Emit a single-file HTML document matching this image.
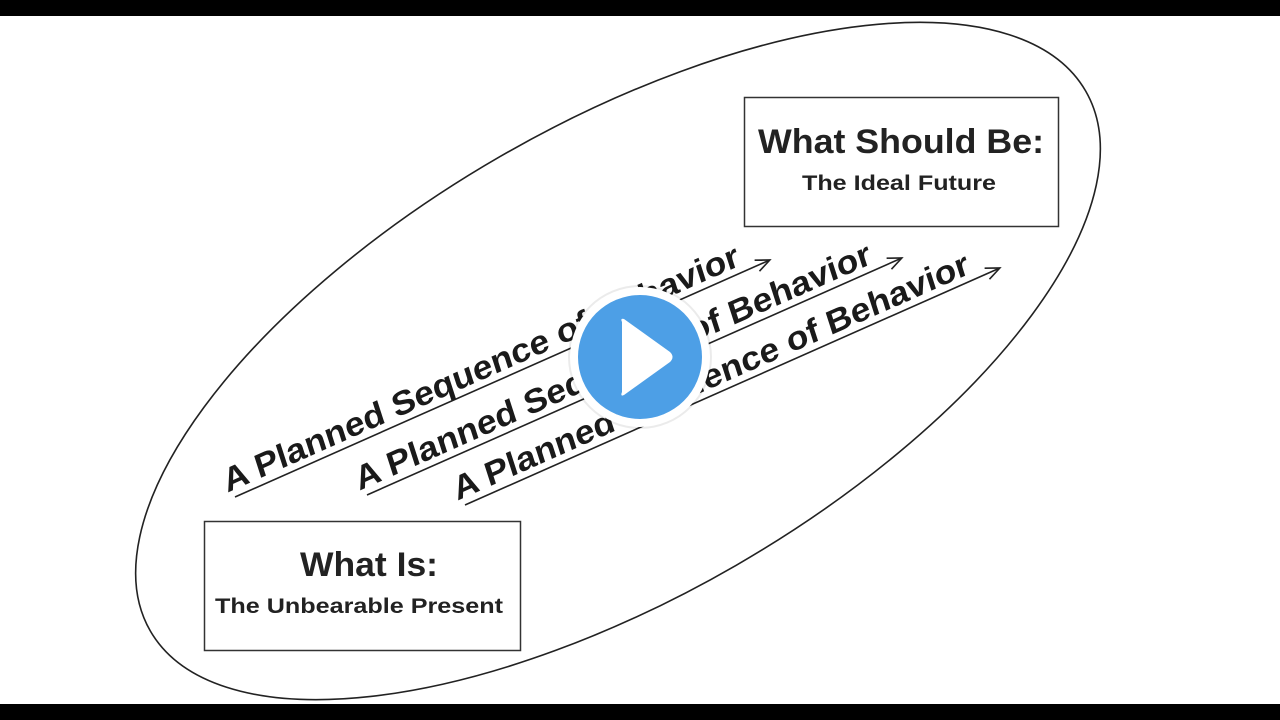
<!DOCTYPE html>
<html><head><meta charset="utf-8"><style>
html,body{margin:0;padding:0;background:#fff;overflow:hidden;width:1280px;height:720px;}
svg{display:block}
</style></head><body>
<svg width="1280" height="720" viewBox="0 0 1280 720" xmlns="http://www.w3.org/2000/svg">
<rect x="0" y="0" width="1280" height="720" fill="#fff"/>
<rect x="0" y="0" width="1280" height="16" fill="#000"/>
<rect x="0" y="704" width="1280" height="16" fill="#000"/>
<ellipse cx="618" cy="361" rx="540" ry="236" transform="rotate(-30 618 361)" fill="none" stroke="#222" stroke-width="1.6"/>
<rect x="744.5" y="97.5" width="314" height="129" fill="#fff" stroke="#333" stroke-width="1.5"/>
<text x="758" y="153" textLength="286" lengthAdjust="spacingAndGlyphs" font-family="Liberation Sans, sans-serif" font-weight="bold" font-size="34" fill="#222">What Should Be:</text>
<text x="802" y="190" textLength="194" lengthAdjust="spacingAndGlyphs" font-family="Liberation Sans, sans-serif" font-weight="bold" font-size="21" fill="#222">The Ideal Future</text>
<rect x="204.5" y="521.5" width="316" height="129" fill="#fff" stroke="#333" stroke-width="1.5"/>
<text x="300" y="576" textLength="138" lengthAdjust="spacingAndGlyphs" font-family="Liberation Sans, sans-serif" font-weight="bold" font-size="34" fill="#222">What Is:</text>
<text x="215" y="613" textLength="288" lengthAdjust="spacingAndGlyphs" font-family="Liberation Sans, sans-serif" font-weight="bold" font-size="21" fill="#222">The Unbearable Present</text>
<g font-family="Liberation Sans, sans-serif" font-weight="bold" font-size="33" fill="#1a1a1a" stroke="none">
<g transform="translate(235,497) rotate(-23.9)">
<line x1="0" y1="0" x2="585" y2="0" stroke="#222" stroke-width="1.6"/>
<polyline points="571,-6 585,0 571,6" fill="none" stroke="#222" stroke-width="1.6"/>
<text x="-6" y="-7" textLength="562" lengthAdjust="spacingAndGlyphs" transform="skewX(-6)">A Planned Sequence of Behavior</text>
</g>
<g transform="translate(367,495) rotate(-23.9)">
<line x1="0" y1="0" x2="585" y2="0" stroke="#222" stroke-width="1.6"/>
<polyline points="571,-6 585,0 571,6" fill="none" stroke="#222" stroke-width="1.6"/>
<text x="-6" y="-7" textLength="562" lengthAdjust="spacingAndGlyphs" transform="skewX(-6)">A Planned Sequence of Behavior</text>
</g>
<g transform="translate(465,505) rotate(-23.9)">
<line x1="0" y1="0" x2="585" y2="0" stroke="#222" stroke-width="1.6"/>
<polyline points="571,-6 585,0 571,6" fill="none" stroke="#222" stroke-width="1.6"/>
<text x="-6" y="-7" textLength="562" lengthAdjust="spacingAndGlyphs" transform="skewX(-6)">A Planned Sequence of Behavior</text>
</g>
</g>
<circle cx="640" cy="357" r="72" fill="#000" opacity="0.08"/>
<circle cx="640" cy="357" r="70" fill="#fff"/>
<circle cx="640" cy="357" r="62" fill="#4d9fe6"/>
<path d="M622 322 Q620 318 624 319 L670 352 Q675 357 670 362 L624 395 Q620 397 622 392 Z" fill="#fff"/>
</svg>
</body></html>
